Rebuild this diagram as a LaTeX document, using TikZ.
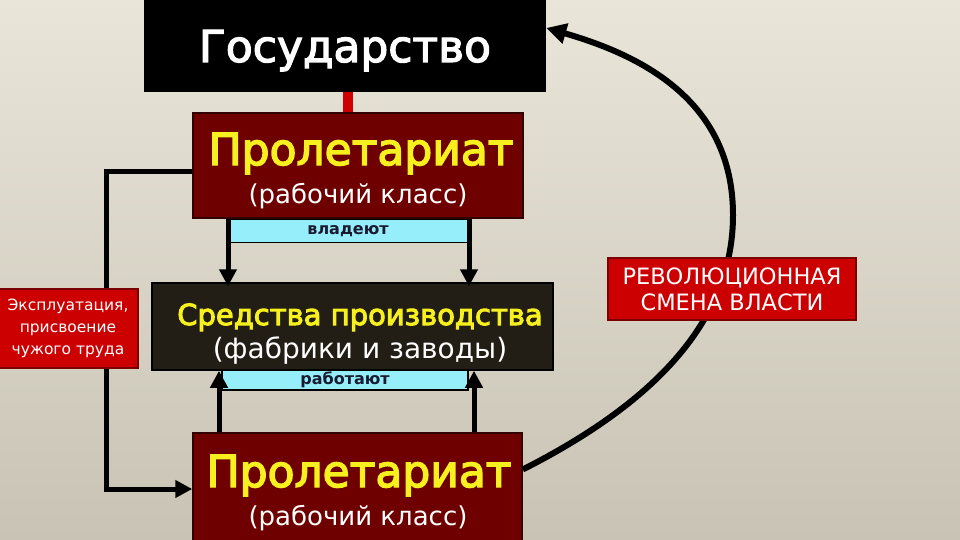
\documentclass[tikz,border=0pt]{standalone}
\usepackage{fontspec}
\setmainfont{DejaVu Sans}
\usetikzlibrary{arrows.meta}
\definecolor{bgtop}{HTML}{E9E5D9}
\definecolor{bgbot}{HTML}{C8C3B4}
\definecolor{darkred}{HTML}{6E0000}
\definecolor{meansfill}{HTML}{221D15}
\definecolor{yel}{HTML}{F6F01E}
\definecolor{cyanbox}{HTML}{95EEFA}
\definecolor{redbox}{HTML}{CC0000}
\definecolor{rededge}{HTML}{7A0000}
\definecolor{conred}{HTML}{D00000}
\definecolor{labtxt}{HTML}{1A1A30}
\newcommand\fsz[1]{\fontsize{#1}{#1}\selectfont}
\newcommand\heavy[2]{\special{pdf:literal direct 2 Tr #1 w}#2\special{pdf:literal direct 0 Tr}}
\begin{document}
\begin{tikzpicture}[x=1pt,y=-1pt,
  box/.style={draw=black, line width=1.5pt, inner sep=0pt, rectangle},
  txt/.style={inner sep=0pt, anchor=base},
  arr/.style={draw=black, line width=5pt, -{Triangle[length=17pt,width=17pt]}},
  plain/.style={draw=black, line width=5pt}]
\clip (0,0) rectangle (960,540);
\useasboundingbox (0,0) rectangle (960,540);
\shade[top color=bgtop, bottom color=bgbot] (0,0) rectangle (960,540);

% boxes
\node[box, fill=black, minimum width=401, minimum height=91] (state) at (345,45.5) {};
\node[box, fill=darkred, draw=black!80!red, minimum width=330, minimum height=105] (top) at (358,165.5) {};
\node[box, fill=cyanbox, minimum width=240, minimum height=23] (own) at (348,231) {};
\node[box, fill=meansfill, draw=black, minimum width=401, minimum height=87] (means) at (352.5,326.5) {};
\node[box, fill=cyanbox, minimum width=246, minimum height=20] (work) at (345,380) {};
\node[box, fill=darkred, draw=black!80!red, minimum width=329, minimum height=112] (bot) at (357.5,489) {};

% connector state - top
\draw[conred, line width=10pt] ([xshift=3pt]state.south) -- ([xshift=3pt]state.south |- top.north);

% helper coordinates
\coordinate (dL) at (228,0);
\coordinate (dR) at (469,0);
\coordinate (uL) at (219,0);
\coordinate (uR) at (474,0);

% owner arrows
\draw[arr, shorten >=-4pt] (top.south -| dL) -- (means.north -| dL);
\draw[arr, shorten >=-4pt] (top.south -| dR) -- (means.north -| dR);
% work arrows
\draw[arr] (bot.north -| uL) -- (means.south -| uL);
\draw[arr] (bot.north -| uR) -- (means.south -| uR);

% left loop
\draw[arr] ([yshift=-6.5pt]top.west) -- ++(-86,0) |- (bot.west);

% exploitation box
\node[box, fill=redbox, draw=rededge, minimum width=140, minimum height=79] (expl) at (68,328.5) {};
\node[txt, white, align=center, anchor=center, font=\fsz{15.5}\linespread{1.4}\selectfont] (explT) at (expl.center)
  {Эксплуатация,\\присвоение\\чужого труда};

% revolution curve
\draw[draw=black, line width=6pt, -{Triangle[length=20pt,width=20pt]}] ([yshift=19.5pt]bot.east) .. controls (640,410) and (733,330) .. (733,215)
   .. controls (733,100) and (640,55) .. ([yshift=17.5pt]state.east);
\node[box, fill=redbox, draw=rededge, minimum width=248, minimum height=62] (rev) at (732,289) {};
\node[txt, white, align=center, anchor=center, font=\fsz{22.5}\linespread{1.15}\selectfont] (revT) at (rev.center)
  {РЕВОЛЮЦИОННАЯ\\СМЕНА ВЛАСТИ};

% texts
\node[txt, white, font=\fsz{44}] (stateT) at (345,62) {\heavy{1.2}{Государство}};
\node[txt, yel, font=\fsz{44}] (topT1) at (361,165) {\heavy{1.4}{Пролетариат}};
\node[txt, white, font=\fsz{26}] (topT2) at (358,203) {(рабочий класс)};
\node[txt, labtxt, font=\fsz{16}\bfseries] (ownT) at (own.center) [anchor=center] {владеют};
\node[txt, yel, font=\fsz{29}] (meansT1) at (360,325) {\heavy{1}{Средства производства}};
\node[txt, white, font=\fsz{28}] (meansT2) at (360,358) {(фабрики и заводы)};
\node[txt, labtxt, font=\fsz{16}\bfseries] (workT) at (work.center) [anchor=center] {работают};
\node[txt, yel, font=\fsz{44}] (botT1) at (359,487) {\heavy{1.4}{Пролетариат}};
\node[txt, white, font=\fsz{26}] (botT2) at (358,525) {(рабочий класс)};
\end{tikzpicture}
\end{document}
